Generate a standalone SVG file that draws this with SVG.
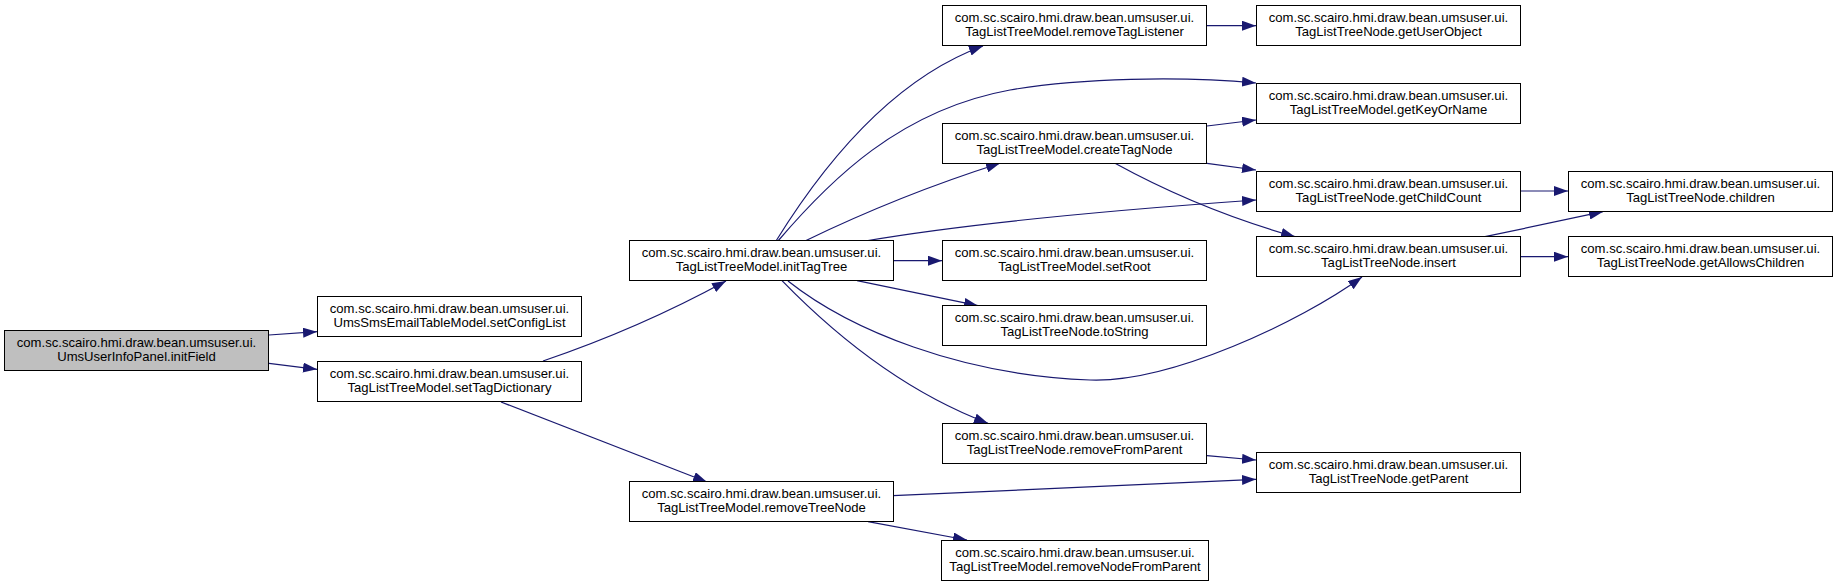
<svg xmlns="http://www.w3.org/2000/svg" width="1837" height="587" viewBox="0 0 1837 587">
<style>
.n rect{fill:#ffffff;stroke:#000000;stroke-width:1}
.root rect{fill:#bfbfbf}
.n text{font-family:"Liberation Sans",Arial,sans-serif;font-size:13.1px;fill:#000000;text-anchor:middle}
.e path{fill:none;stroke:#191970;stroke-width:1.2;marker-end:url(#ah)}
</style>
<defs>
<marker id="ah" markerWidth="14" markerHeight="10" refX="14" refY="5" orient="auto" markerUnits="userSpaceOnUse">
<path d="M0,0 L14,5 L0,10 z" fill="#191970"/>
</marker>
</defs>
<rect x="0" y="0" width="1837" height="587" fill="#ffffff"/>
<g id="edges" class="e">
<path d="M269,335 L317,331.7"/>
<path d="M269,363.3 L317,369.3"/>
<path d="M543,361 Q640,328 726,281"/>
<path d="M501,402 L707,482"/>
<path d="M776,241 C820,170 890,80 983,46"/>
<path d="M778,241 C830,180 900,110 1010,90 C1080,78 1180,76 1256,83"/>
<path d="M805,241 Q900,195 1000,163.3"/>
<path d="M865,241 Q1000,218 1256,200"/>
<path d="M893,260.7 L942,260.7"/>
<path d="M857,280.7 L978,305.7"/>
<path d="M782,280.7 C830,330 900,390 988,423.3"/>
<path d="M788,281 C850,330 960,375 1090,380 C1170,383 1300,322 1362,277"/>
<path d="M1207,25.7 L1256,25.7"/>
<path d="M1207,126 L1256,120"/>
<path d="M1207,163.3 L1256,170"/>
<path d="M1115,163.3 Q1200,210 1295,236.7"/>
<path d="M1520,191 L1568,191"/>
<path d="M1485,236.7 L1603,211.7"/>
<path d="M1520,256.7 L1568,256.7"/>
<path d="M1207,455.7 L1256,460"/>
<path d="M893,495.7 L1256,479.3"/>
<path d="M868,521.7 L967,540"/>
</g>
<g id="initField" class="n root"><rect x="4.5" y="330.5" width="264" height="40"/><text x="136.5" y="346.5">com.sc.scairo.hmi.draw.bean.umsuser.ui.<tspan x="136.5" y="360.5">UmsUserInfoPanel.initField</tspan></text></g>
<g id="setConfigList" class="n"><rect x="317.5" y="296.5" width="264" height="40"/><text x="449.5" y="312.5">com.sc.scairo.hmi.draw.bean.umsuser.ui.<tspan x="449.5" y="326.5">UmsSmsEmailTableModel.setConfigList</tspan></text></g>
<g id="setTagDictionary" class="n"><rect x="317.5" y="361.5" width="264" height="40"/><text x="449.5" y="377.5">com.sc.scairo.hmi.draw.bean.umsuser.ui.<tspan x="449.5" y="391.5">TagListTreeModel.setTagDictionary</tspan></text></g>
<g id="initTagTree" class="n"><rect x="629.5" y="240.5" width="264" height="40"/><text x="761.5" y="256.5">com.sc.scairo.hmi.draw.bean.umsuser.ui.<tspan x="761.5" y="270.5">TagListTreeModel.initTagTree</tspan></text></g>
<g id="removeTreeNode" class="n"><rect x="629.5" y="481.5" width="264" height="40"/><text x="761.5" y="497.5">com.sc.scairo.hmi.draw.bean.umsuser.ui.<tspan x="761.5" y="511.5">TagListTreeModel.removeTreeNode</tspan></text></g>
<g id="removeTagListener" class="n"><rect x="942.5" y="5.5" width="264" height="40"/><text x="1074.5" y="21.5">com.sc.scairo.hmi.draw.bean.umsuser.ui.<tspan x="1074.5" y="35.5">TagListTreeModel.removeTagListener</tspan></text></g>
<g id="createTagNode" class="n"><rect x="942.5" y="123.5" width="264" height="40"/><text x="1074.5" y="139.5">com.sc.scairo.hmi.draw.bean.umsuser.ui.<tspan x="1074.5" y="153.5">TagListTreeModel.createTagNode</tspan></text></g>
<g id="setRoot" class="n"><rect x="942.5" y="240.5" width="264" height="40"/><text x="1074.5" y="256.5">com.sc.scairo.hmi.draw.bean.umsuser.ui.<tspan x="1074.5" y="270.5">TagListTreeModel.setRoot</tspan></text></g>
<g id="toString" class="n"><rect x="942.5" y="305.5" width="264" height="40"/><text x="1074.5" y="321.5">com.sc.scairo.hmi.draw.bean.umsuser.ui.<tspan x="1074.5" y="335.5">TagListTreeNode.toString</tspan></text></g>
<g id="removeFromParent" class="n"><rect x="942.5" y="423.5" width="264" height="40"/><text x="1074.5" y="439.5">com.sc.scairo.hmi.draw.bean.umsuser.ui.<tspan x="1074.5" y="453.5">TagListTreeNode.removeFromParent</tspan></text></g>
<g id="removeNodeFromParent" class="n"><rect x="941.5" y="540.5" width="267" height="40"/><text x="1075" y="556.5">com.sc.scairo.hmi.draw.bean.umsuser.ui.<tspan x="1075" y="570.5">TagListTreeModel.removeNodeFromParent</tspan></text></g>
<g id="getUserObject" class="n"><rect x="1256.5" y="5.5" width="264" height="40"/><text x="1388.5" y="21.5">com.sc.scairo.hmi.draw.bean.umsuser.ui.<tspan x="1388.5" y="35.5">TagListTreeNode.getUserObject</tspan></text></g>
<g id="getKeyOrName" class="n"><rect x="1256.5" y="83.5" width="264" height="40"/><text x="1388.5" y="99.5">com.sc.scairo.hmi.draw.bean.umsuser.ui.<tspan x="1388.5" y="113.5">TagListTreeModel.getKeyOrName</tspan></text></g>
<g id="getChildCount" class="n"><rect x="1256.5" y="171.5" width="264" height="40"/><text x="1388.5" y="187.5">com.sc.scairo.hmi.draw.bean.umsuser.ui.<tspan x="1388.5" y="201.5">TagListTreeNode.getChildCount</tspan></text></g>
<g id="insert" class="n"><rect x="1256.5" y="236.5" width="264" height="40"/><text x="1388.5" y="252.5">com.sc.scairo.hmi.draw.bean.umsuser.ui.<tspan x="1388.5" y="266.5">TagListTreeNode.insert</tspan></text></g>
<g id="getParent" class="n"><rect x="1256.5" y="452.5" width="264" height="40"/><text x="1388.5" y="468.5">com.sc.scairo.hmi.draw.bean.umsuser.ui.<tspan x="1388.5" y="482.5">TagListTreeNode.getParent</tspan></text></g>
<g id="children" class="n"><rect x="1568.5" y="171.5" width="264" height="40"/><text x="1700.5" y="187.5">com.sc.scairo.hmi.draw.bean.umsuser.ui.<tspan x="1700.5" y="201.5">TagListTreeNode.children</tspan></text></g>
<g id="getAllowsChildren" class="n"><rect x="1568.5" y="236.5" width="264" height="40"/><text x="1700.5" y="252.5">com.sc.scairo.hmi.draw.bean.umsuser.ui.<tspan x="1700.5" y="266.5">TagListTreeNode.getAllowsChildren</tspan></text></g>
</svg>
